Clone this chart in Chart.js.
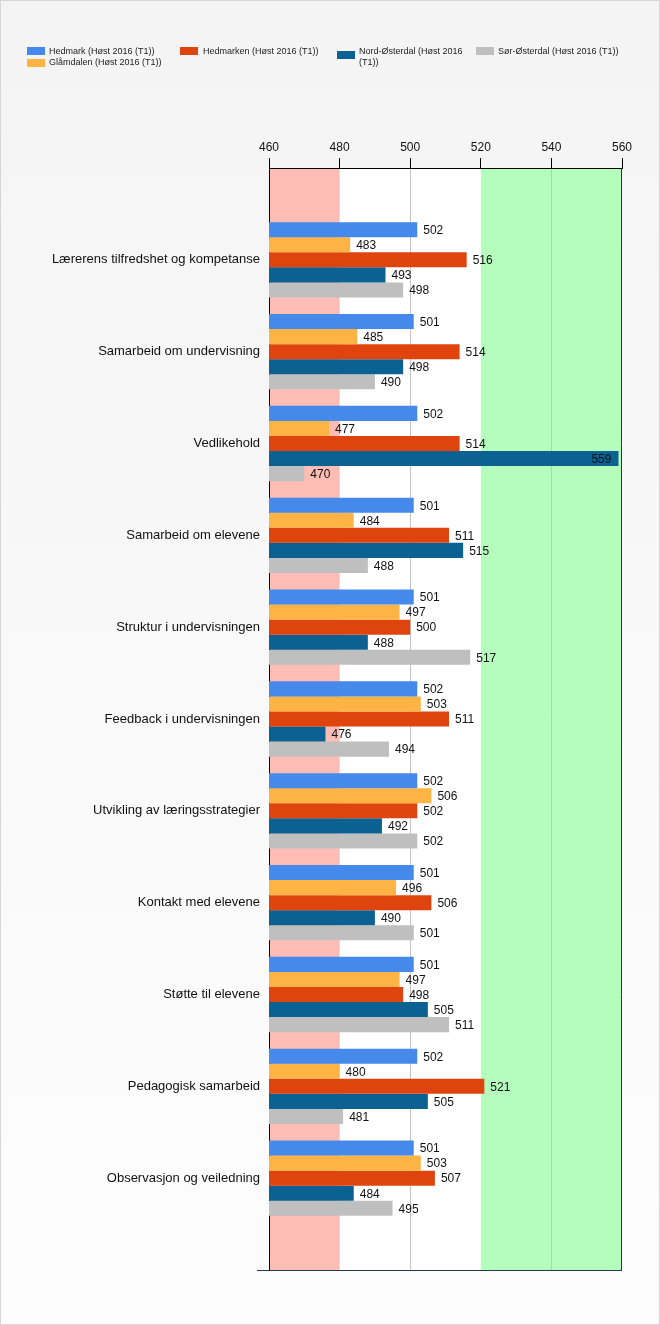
<!DOCTYPE html>
<html><head><meta charset="utf-8">
<script src="https://cdn.jsdelivr.net/npm/chart.js@4"></script>
<style>
html,body{margin:0;padding:0;}
body{width:660px;height:1325px;position:relative;overflow:hidden;background:linear-gradient(#f4f4f4,#fdfdfd);font-family:"Liberation Sans",Arial,sans-serif;}
#frame{position:absolute;left:0;top:0;width:658px;height:1323px;border:1px solid #d6d6d6;}
#c{position:absolute;left:0;top:0;}
.lt{position:absolute;font-size:9px;color:#222;line-height:11px;white-space:normal;}
.sw{position:absolute;width:18px;height:8px;}
</style></head>
<body>
<div id="frame"></div>
<canvas id="c" width="660" height="1325"></canvas>
<div id="legend"></div>
<script>
const categories = [
  "Lærerens tilfredshet og kompetanse",
  "Samarbeid om undervisning",
  "Vedlikehold",
  "Samarbeid om elevene",
  "Struktur i undervisningen",
  "Feedback i undervisningen",
  "Utvikling av læringsstrategier",
  "Kontakt med elevene",
  "Støtte til elevene",
  "Pedagogisk samarbeid",
  "Observasjon og veiledning"
];
const seriesNames = [
  "Hedmark (Høst 2016 (T1))",
  "Glåmdalen (Høst 2016 (T1))",
  "Hedmarken (Høst 2016 (T1))",
  "Nord-Østerdal (Høst 2016 (T1))",
  "Sør-Østerdal (Høst 2016 (T1))"
];
const hedmark      = [502, 501, 502, 501, 501, 502, 502, 501, 501, 502, 501];
const glamdalen    = [483, 485, 477, 484, 497, 503, 506, 496, 497, 480, 503];
const hedmarken    = [516, 514, 514, 511, 500, 511, 502, 506, 498, 521, 507];
const nordOsterdal = [493, 498, 559, 515, 488, 476, 492, 490, 505, 505, 484];
const sorOsterdal  = [498, 490, 470, 488, 517, 494, 502, 501, 511, 481, 495];
const xTicks = [460, 480, 500, 520, 540, 560];
const lowBand = [460, 480];
const highBand = [520, 560];

const seriesValues = [hedmark, glamdalen, hedmarken, nordOsterdal, sorOsterdal];
const seriesColors = ["#4589ea", "#fdb444", "#e0440e", "#0b6191", "#bfbfbf"];

// legend (HTML, laid out like the reference)
const legendLayout = [
  {bx:27, by:47, tx:49, ty:45.5, w:140},
  {bx:27, by:58.5, tx:49, ty:57, w:140},
  {bx:180, by:47, tx:203, ty:45.5, w:140},
  {bx:337, by:51, tx:359, ty:45.5, w:108},
  {bx:476, by:47, tx:498, ty:45.5, w:150}
];
const leg = document.getElementById('legend');
seriesNames.forEach((n,i)=>{
  const p = legendLayout[i];
  const s = document.createElement('div'); s.className='sw';
  s.style.left=p.bx+'px'; s.style.top=p.by+'px'; s.style.background=seriesColors[i];
  const t = document.createElement('div'); t.className='lt';
  t.style.left=p.tx+'px'; t.style.top=p.ty+'px'; t.style.width=p.w+'px'; t.textContent=n;
  leg.appendChild(s); leg.appendChild(t);
});

const yLabels = [""].concat(categories, [""]);
const datasets = seriesNames.map((n,i)=>({
  label:n,
  data:[null].concat(seriesValues[i],[null]),
  backgroundColor:seriesColors[i],
  borderWidth:0,
  categoryPercentage:0.82,
  barPercentage:1.0
}));

Chart.defaults.font.family = '"Liberation Sans", Arial, sans-serif';
Chart.defaults.font.size = 12;
Chart.defaults.color = '#111';

const bandsPlugin = {
  id:'bands',
  beforeDraw(chart){
    const {ctx, chartArea:a, scales:{x}} = chart;
    ctx.save();
    ctx.fillStyle='#ffffff';
    ctx.fillRect(a.left,a.top,a.right-a.left,a.bottom-a.top);
    ctx.fillStyle='#fdbcb4';
    let x0=x.getPixelForValue(lowBand[0]), x1=x.getPixelForValue(lowBand[1]);
    ctx.fillRect(x0,a.top,x1-x0,a.bottom-a.top);
    ctx.fillStyle='#b5fdbd';
    x0=x.getPixelForValue(highBand[0]); x1=x.getPixelForValue(highBand[1]);
    ctx.fillRect(x0,a.top,x1-x0,a.bottom-a.top);
    ctx.restore();
  },
  afterDatasetsDraw(chart){
    const {ctx, chartArea:a} = chart;
    ctx.save();
    ctx.strokeStyle='#1d3b4b'; ctx.lineWidth=1;
    ctx.beginPath();
    ctx.moveTo(a.left-12,a.bottom+0.5); ctx.lineTo(a.right,a.bottom+0.5);
    ctx.moveTo(a.right-0.5,a.top); ctx.lineTo(a.right-0.5,a.bottom);
    ctx.stroke();
    ctx.font='12px "Liberation Sans", Arial, sans-serif';
    ctx.fillStyle='#111'; ctx.textBaseline='middle';
    chart.data.datasets.forEach((ds,i)=>{
      const meta=chart.getDatasetMeta(i);
      meta.data.forEach((bar,j)=>{
        const v=ds.data[j]; if(v==null) return;
        const t=String(v); const w=ctx.measureText(t).width;
        let xx=bar.x+6;
        if(xx+w>a.right){ ctx.textAlign='right'; xx=bar.x-7; } else ctx.textAlign='left';
        ctx.fillText(t,xx,bar.y+1);
      });
    });
    ctx.restore();
  }
};

new Chart(document.getElementById('c'),{
  type:'bar',
  data:{labels:yLabels, datasets},
  plugins:[bandsPlugin],
  options:{
    indexAxis:'y',
    responsive:false,
    animation:false,
    layout:{padding:{left:0,top:0,right:38,bottom:55}},
    plugins:{legend:{display:false},tooltip:{enabled:false}},
    scales:{
      x:{
        type:'linear', position:'top', min:xTicks[0], max:xTicks[xTicks.length-1],
        afterBuildTicks(s){ s.ticks = xTicks.map(v=>({value:v})); },
        ticks:{color:'#111',font:{size:12},padding:3},
        grid:{
          color:c=> (c.tick && (c.tick.value===500||c.tick.value===540)) ? '#c4c4c4' : 'rgba(0,0,0,0)',
          tickColor:'#000', tickLength:10, drawTicks:true
        },
        border:{color:'#000',width:1},
        afterFit(s){ s.height=168; }
      },
      y:{
        type:'category', offset:false,
        grid:{drawOnChartArea:false, drawTicks:true, tickLength:8,
          tickColor:c=> (c.index===0) ? '#000' : 'rgba(0,0,0,0)'},
        border:{color:'#000',width:1},
        ticks:{color:'#111',font:{size:13},padding:1,autoSkip:false},
        afterFit(s){ s.width=269; }
      }
    }
  }
});
</script>
</body></html>
